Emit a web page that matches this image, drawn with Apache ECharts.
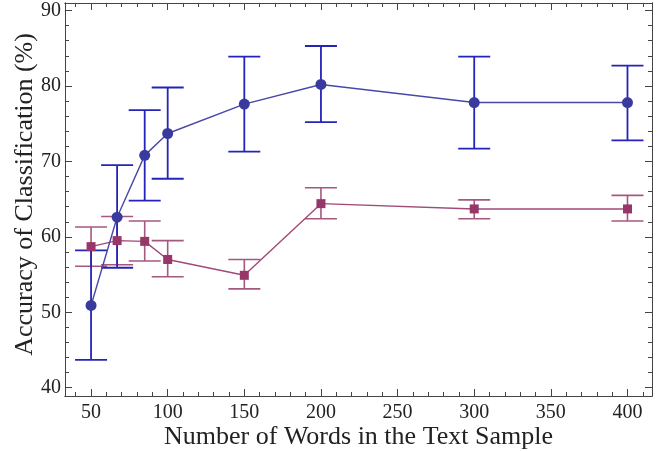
<!DOCTYPE html>
<html>
<head>
<meta charset="utf-8">
<script src="https://cdn.jsdelivr.net/npm/echarts@6/dist/echarts.min.js"></script>
<style>html,body{margin:0;padding:0;background:#fff}#c{width:657px;height:451px}</style>
</head>
<body>
<div id="c"></div>
<script>
// ---- data ----
var words = [50, 67, 85, 100, 150, 200, 300, 400];
var blueMean = [50.9, 62.6, 70.8, 73.7, 77.6, 80.2, 77.8, 77.8];
var blueLow  = [43.7, 55.9, 64.8, 67.7, 71.3, 75.2, 71.7, 72.8];
var blueHigh = [58.2, 69.5, 76.8, 79.8, 83.9, 85.3, 83.9, 82.7];
var purpMean = [58.7, 59.5, 59.4, 57.0, 54.9, 64.4, 63.7, 63.7];
var purpLow  = [56.1, 56.3, 56.8, 54.7, 53.1, 62.4, 62.4, 62.1];
var purpHigh = [61.3, 62.7, 62.1, 59.5, 57.0, 66.5, 64.9, 65.5];
var xTicks = [50, 100, 150, 200, 250, 300, 350, 400];
var yTicks = [40, 50, 60, 70, 80, 90];
var xMinor = [40,50,60,70,80,90,100,110,120,130,140,150,160,170,180,190,200,210,220,230,240,250,260,270,280,290,300,310,320,330,340,350,360,370,380,390,400,410];
var yMinor = [40,42,44,46,48,50,52,54,56,58,60,62,64,66,68,70,72,74,76,78,80,82,84,86,88,90];
var xTitle = 'Number of Words in the Text Sample';
var yTitle = 'Accuracy of Classification (%)';

var XMIN = 33, XMAX = 416, YMIN = 38.9, YMAX = 91;
var FONT = 'Liberation Serif';
var AX = '#444';

function xAx(pos, vals, len, labels, extra) {
  var o = {
    type: 'value', position: pos, min: XMIN, max: XMAX,
    axisLine: {show: true, onZero: false, lineStyle: {color: AX, width: 1}},
    axisTick: {show: true, inside: true, length: len, customValues: vals, lineStyle: {color: AX, width: 1}},
    axisLabel: {show: labels, customValues: vals, color: '#222', fontFamily: FONT, fontSize: 20, margin: 7},
    splitLine: {show: false}
  };
  return Object.assign(o, extra || {});
}
function yAx(pos, vals, len, labels, extra) {
  var o = {
    type: 'value', position: pos, min: YMIN, max: YMAX,
    axisLine: {show: true, onZero: false, lineStyle: {color: AX, width: 1}},
    axisTick: {show: true, inside: true, length: len, customValues: vals, lineStyle: {color: AX, width: 1}},
    axisLabel: {show: labels, customValues: vals, color: '#222', fontFamily: FONT, fontSize: 20, margin: 4},
    splitLine: {show: false}
  };
  return Object.assign(o, extra || {});
}

function errSeries(low, high, color, capHalf, width) {
  var d = words.map(function (x, i) { return [x, low[i], high[i]]; });
  return {
    type: 'custom', xAxisIndex: 0, yAxisIndex: 0, data: d, silent: true,
    encode: {x: 0, y: [1, 2]},
    renderItem: function (params, api) {
      var x = api.value(0);
      var lo = api.coord([x, api.value(1)]);
      var hi = api.coord([x, api.value(2)]);
      var st = {stroke: color, lineWidth: width, fill: null};
      return {
        type: 'group',
        children: [
          {type: 'line', shape: {x1: lo[0], y1: lo[1], x2: hi[0], y2: hi[1]}, style: st},
          {type: 'line', shape: {x1: lo[0] - capHalf, y1: lo[1], x2: lo[0] + capHalf, y2: lo[1]}, style: st},
          {type: 'line', shape: {x1: hi[0] - capHalf, y1: hi[1], x2: hi[0] + capHalf, y2: hi[1]}, style: st}
        ]
      };
    }
  };
}

var chart = echarts.init(document.getElementById('c'), null, {renderer: 'canvas'});
chart.setOption({
  animation: false,
  backgroundColor: '#fff',
  grid: {left: 65, right: 5, top: 3, bottom: 55, containLabel: false, outerBoundsMode: 'none'},
  xAxis: [
    xAx('bottom', xTicks, 7, true, {name: xTitle, nameLocation: 'middle', nameGap: 28, nameMoveOverlap: false,
      nameTextStyle: {fontFamily: FONT, fontSize: 26, color: '#222'}}),
    xAx('bottom', xMinor, 4, false),
    xAx('top', xTicks, 7, false),
    xAx('top', xMinor, 4, false)
  ],
  yAxis: [
    yAx('left', yTicks, 7, true, {name: yTitle, nameLocation: 'middle', nameGap: 27, nameMoveOverlap: false,
      nameTextStyle: {fontFamily: FONT, fontSize: 26, color: '#222', padding: [0, 0, 0, 10]}}),
    yAx('left', yMinor, 4, false),
    yAx('right', yTicks, 7, false),
    yAx('right', yMinor, 4, false)
  ],
  series: [
    errSeries(purpLow, purpHigh, '#a5587f', 16, 1.6),
    errSeries(blueLow, blueHigh, '#2424b8', 16, 1.8),
    {
      type: 'line', xAxisIndex: 0, yAxisIndex: 0,
      data: words.map(function (x, i) { return [x, purpMean[i]]; }),
      symbol: 'rect', symbolSize: 9,
      lineStyle: {color: '#a04a78', width: 1.4},
      itemStyle: {color: '#973668'}
    },
    {
      type: 'line', xAxisIndex: 0, yAxisIndex: 0,
      data: words.map(function (x, i) { return [x, blueMean[i]]; }),
      symbol: 'circle', symbolSize: 11,
      lineStyle: {color: '#4848a8', width: 1.4},
      itemStyle: {color: '#3a3a9e'}
    }
  ]
});
</script>
</body>
</html>
